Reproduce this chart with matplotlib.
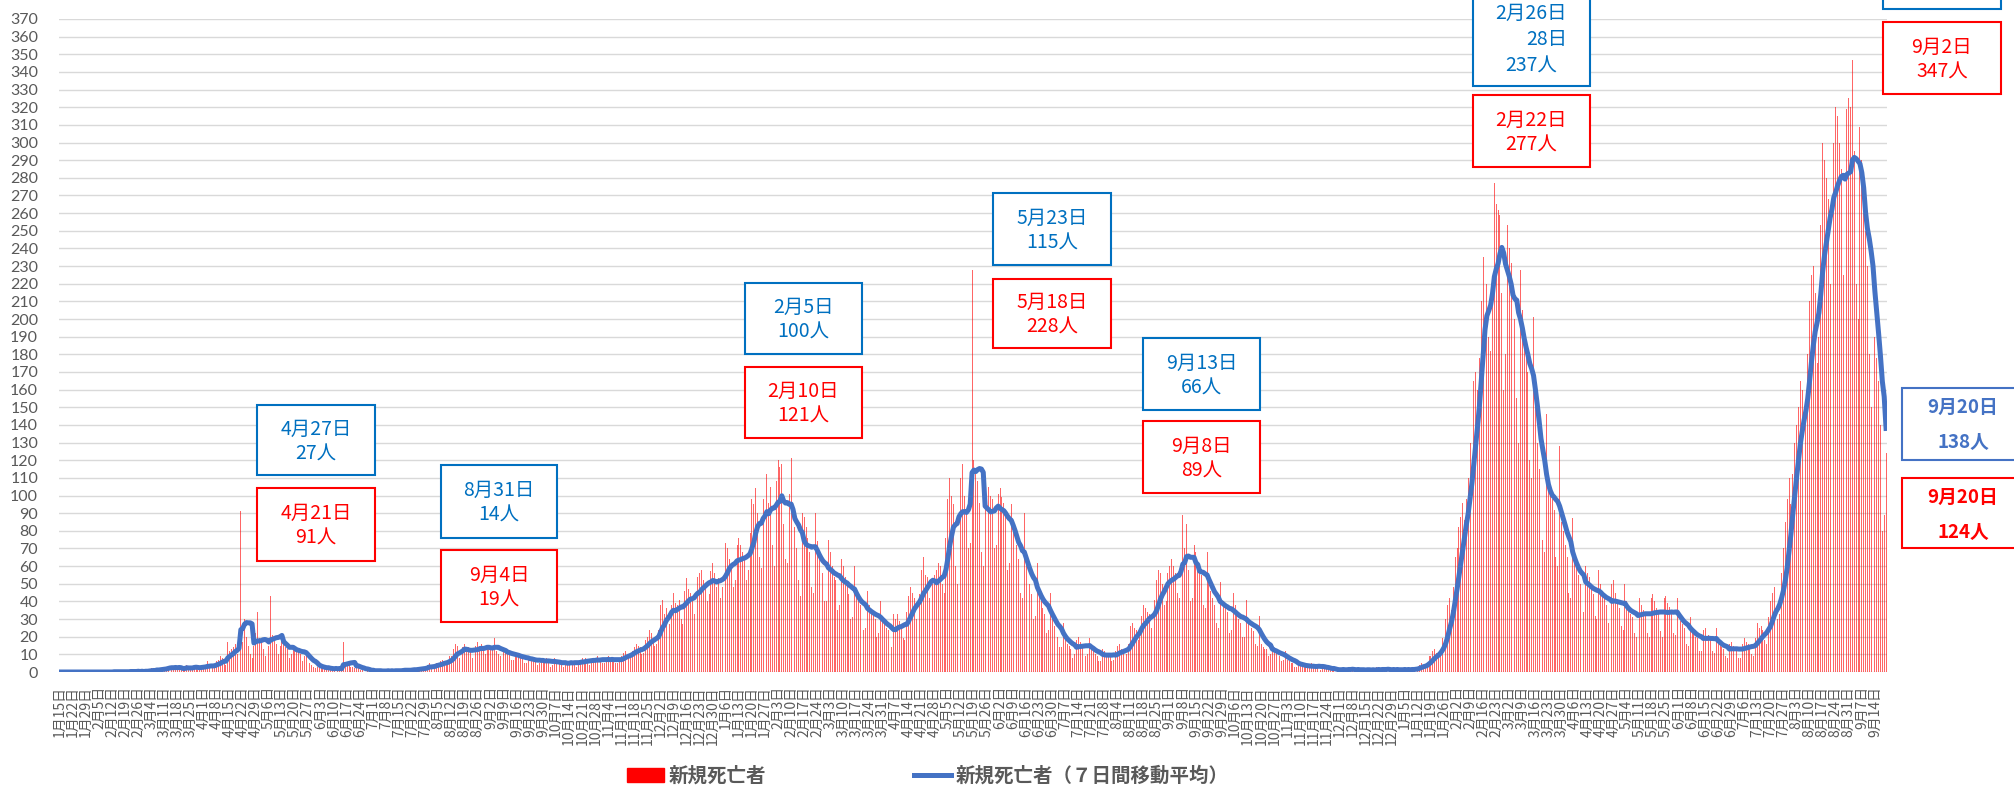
import numpy as np
import pandas as pd
import matplotlib
matplotlib.use('Agg')
import matplotlib.pyplot as plt
from matplotlib.patches import Rectangle
from matplotlib.lines import Line2D

plt.rcParams['font.family'] = ['Noto Sans CJK JP', 'DejaVu Sans']

start_date = '2020-01-15'

# daily new deaths (one row = one week, Wed..Tue)
deaths_2020 = [
    0, 0, 0, 0, 0, 0, 0,
    0, 0, 0, 0, 0, 0, 0,
    0, 0, 0, 0, 0, 0, 0,
    0, 0, 0, 0, 0, 0, 0,
    0, 1, 0, 0, 0, 0, 0,
    0, 1, 0, 1, 0, 0, 0,
    1, 0, 1, 0, 1, 0, 1,
    2, 1, 1, 2, 1, 1, 2,
    3, 2, 3, 4, 2, 1, 3,
    2, 3, 2, 1, 2, 4, 2,
    2, 3, 4, 2, 1, 3, 3,
    3, 4, 6, 3, 2, 3, 4,
    6, 7, 9, 8, 5, 4, 17,
    12, 13, 14, 16, 10, 12, 91,
    17, 30, 20, 15, 10, 8, 15,
    22, 34, 19, 17, 13, 9, 12,
    15, 43, 21, 20, 16, 10, 15,
    20, 18, 14, 13, 8, 10, 15,
    15, 13, 12, 10, 6, 9, 12,
    7, 5, 4, 3, 2, 3, 4,
    3, 2, 2, 1, 2, 1, 3,
    2, 3, 1, 2, 1, 17, 4,
    4, 5, 3, 3, 2, 3, 4,
    1, 2, 1, 0, 1, 1, 1,
    1, 0, 1, 0, 1, 0, 1,
    1, 1, 0, 1, 0, 1, 1,
    1, 1, 1, 2, 0, 1, 1,
    2, 2, 1, 3, 1, 2, 2,
    3, 4, 5, 3, 2, 3, 5,
    5, 6, 7, 6, 4, 5, 9,
    9, 13, 16, 15, 8, 9, 14,
    16, 12, 14, 13, 8, 10, 15,
    17, 15, 16, 12, 10, 13, 15,
    15, 14, 19, 12, 10, 9, 12,
    12, 11, 13, 10, 7, 7, 10,
    10, 9, 10, 8, 5, 5, 9,
    7, 8, 8, 6, 4, 5, 8,
    7, 6, 8, 6, 3, 4, 8,
    6, 5, 7, 4, 3, 4, 6,
    6, 7, 6, 5, 3, 4, 7,
    8, 7, 8, 6, 4, 5, 8,
    8, 9, 7, 7, 5, 5, 8,
    9, 8, 8, 6, 5, 5, 8,
    9, 11, 12, 10, 8, 8, 12,
    14, 16, 15, 14, 10, 11, 18,
    20, 24, 22, 19, 15, 16, 24,
    38, 41, 33, 36, 25, 27, 38,
    45, 39, 38, 41, 30, 27, 46,
    53, 47, 45, 43, 33, 38, 54,
    56, 58, 52, 50, 40, 44, 57,
    62, 56,
]

deaths_2021 = [
    48, 53, 42, 48, 62,
    73, 70, 64, 62, 48, 52, 72,
    76, 72, 68, 64, 52, 58, 79,
    98, 95, 104, 90, 65, 59, 98,
    108, 112, 96, 105, 72, 60, 108,
    120, 116, 118, 84, 64, 62, 101,
    121, 95, 82, 70, 52, 43, 90,
    88, 82, 76, 68, 48, 45, 90,
    74, 66, 62, 56, 40, 40, 75,
    68, 60, 54, 52, 35, 38, 64,
    60, 54, 50, 44, 30, 31, 60,
    44, 40, 38, 35, 24, 25, 46,
    38, 34, 33, 30, 20, 22, 40,
    30, 27, 25, 24, 15, 14, 33,
    30, 33, 29, 26, 19, 18, 34,
    43, 48, 45, 42, 30, 28, 44,
    58, 65, 55, 54, 42, 40, 50,
    55, 58, 62, 60, 50, 45, 76,
    98, 110, 100, 95, 60, 50, 103,
    110, 118, 100, 92, 70, 73, 228,
    120, 112, 108, 96, 68, 60, 94,
    112, 105, 100, 98, 70, 72, 101,
    104, 99, 96, 88, 58, 62, 95,
    85, 78, 72, 64, 45, 42, 90,
    62, 56, 50, 44, 30, 32, 62,
    45, 40, 36, 33, 22, 24, 45,
    30, 26, 22, 20, 14, 14, 28,
    18, 16, 15, 13, 8, 10, 18,
    20, 17, 16, 14, 9, 10, 19,
    14, 12, 10, 9, 6, 6, 13,
    12, 11, 10, 9, 6, 7, 12,
    15, 16, 13, 12, 9, 10, 16,
    26, 28, 25, 24, 18, 20, 32,
    38, 36, 34, 33, 25, 24, 41,
    52, 58, 56, 50, 38, 40, 56,
    60, 64, 60, 56, 45, 42, 72,
    89, 70, 84, 58, 40, 42, 72,
    68, 62, 58, 55, 38, 36, 68,
    50, 46, 42, 38, 28, 25, 51,
    44, 40, 36, 34, 22, 24, 45,
    38, 33, 30, 28, 20, 20, 41,
    30, 27, 25, 23, 16, 15, 32,
    16, 14, 13, 13, 9, 10, 16,
    12, 11, 9, 9, 6, 7, 12,
    7, 6, 5, 5, 3, 3, 6,
    4, 4, 3, 3, 2, 2, 5,
    4, 3, 3, 4, 1, 2, 4,
    2, 2, 1, 2, 1, 0, 2,
    1, 2, 2, 1, 1, 1, 2,
    2, 1, 1, 2, 0, 1, 2,
    1, 2, 1, 1, 1, 0, 3,
    2, 1, 2, 1, 1, 1, 2,
    1, 2, 1,
]

deaths_2022 = [
    2, 0, 1, 2,
    2, 1, 2, 1, 1, 1, 3,
    3, 4, 5, 4, 3, 4, 9,
    9, 12, 13, 11, 8, 12, 19,
    22, 30, 38, 42, 35, 48, 65,
    70, 82, 88, 96, 86, 98, 110,
    130, 142, 165, 170, 160, 178, 210,
    235, 240, 220, 190, 182, 224, 277,
    265, 262, 259, 215, 160, 180, 253,
    240, 232, 215, 200, 155, 130, 228,
    205, 190, 180, 170, 120, 110, 201,
    150, 130, 115, 100, 75, 68, 146,
    110, 105, 98, 92, 65, 60, 128,
    85, 80, 72, 65, 45, 42, 87,
    62, 60, 55, 50, 36, 34, 60,
    56, 54, 48, 44, 32, 30, 58,
    50, 46, 42, 38, 28, 26, 50,
    52, 45, 40, 36, 26, 24, 50,
    40, 36, 33, 31, 22, 20, 42,
    42, 38, 35, 32, 22, 20, 42,
    44, 40, 36, 33, 23, 20, 42,
    43, 39, 37, 34, 22, 21, 42,
    32, 29, 27, 25, 16, 15, 31,
    24, 22, 20, 19, 12, 12, 24,
    25, 21, 21, 18, 12, 11, 25,
    16, 15, 14, 13, 9, 8, 16,
    17, 15, 14, 13, 8, 8, 16,
    19, 17, 16, 15, 10, 9, 19,
    28, 25, 26, 24, 18, 16, 31,
    40, 45, 48, 42, 30, 33, 56,
    70, 85, 98, 110, 95, 112, 130,
    140, 150, 165, 160, 140, 150, 180,
    210, 225, 230, 215, 175, 190, 253,
    300, 290, 280, 268, 220, 225, 300,
    320, 315, 300, 285, 225, 210, 319,
    325, 320, 347, 295, 220, 200, 309,
    290, 260, 250, 230, 180, 150, 250,
    190, 178, 165, 140, 80, 89, 124,
]

daily = np.array(deaths_2020 + deaths_2021 + deaths_2022)
dates = pd.date_range(start_date, periods=len(daily))
ma7 = pd.Series(daily).rolling(7, min_periods=1).mean()

W, H = 2014, 786
blue = '#0070C0'
red = '#FF0000'
line_blue = '#4472C4'
gray = '#595959'

fig = plt.figure(figsize=(W / 100, H / 100), dpi=100)
ax = fig.add_axes([59 / W, 1 - 672 / H, (1887 - 59) / W, (672 - 19) / H])

x = np.arange(len(daily))
ax.bar(x, daily, width=0.5, color=red, alpha=0.6, linewidth=0, zorder=2)
ax.plot(x, ma7, color=line_blue, lw=3.6, zorder=3)

ax.set_xlim(-0.5, len(daily) - 0.5)
ax.set_ylim(0, 370)
ax.set_yticks(range(0, 371, 10))
ax.grid(axis='y', color='#D9D9D9', lw=1.0)
ax.set_axisbelow(True)
for s in ax.spines.values():
    s.set_visible(False)

ax.set_xticks(x[::7])
ax.set_xticklabels([f'{d.month}月{d.day}日' for d in dates[::7]], rotation=90, fontsize=10, color=gray)
ax.tick_params(axis='x', length=0, pad=10)
ax.tick_params(axis='y', length=0, pad=15, labelsize=11.5, labelcolor=gray)
for lab in ax.get_yticklabels():
    lab.set_family('Lato')


def box(x0, y0, x1, y1, color, lw=1.5):
    fig.add_artist(Rectangle((x0 / W, 1 - y1 / H), (x1 - x0) / W, (y1 - y0) / H,
                             transform=fig.transFigure, facecolor='white',
                             edgecolor=color, lw=lw, zorder=5))


def label(xp, yp, s, color, size=14, weight='normal', ha='center'):
    fig.text(xp / W, 1 - yp / H, s, color=color, fontsize=size, ha=ha, va='center',
             fontweight=weight, zorder=6)


# text boxes (pixel positions in the figure)
notes = [
    (257, 405, 375, 475, blue, '4月27日', '27人'),
    (257, 488, 375, 561, red, '4月21日', '91人'),
    (441, 465, 557, 538, blue, '8月31日', '14人'),
    (441, 550, 557, 622, red, '9月4日', '19人'),
    (745, 283, 862, 354, blue, '2月5日', '100人'),
    (745, 367, 862, 438, red, '2月10日', '121人'),
    (993, 193, 1111, 265, blue, '5月23日', '115人'),
    (993, 279, 1111, 348, red, '5月18日', '228人'),
    (1143, 338, 1260, 410, blue, '9月13日', '66人'),
    (1143, 421, 1260, 493, red, '9月8日', '89人'),
    (1473, 95, 1590, 167, red, '2月22日', '277人'),
    (1883, 22, 2001, 94, red, '9月2日', '347人'),
]
for x0, y0, x1, y1, c, l1, l2 in notes:
    box(x0, y0, x1, y1, c)
    cx, cy = (x0 + x1) / 2, (y0 + y1) / 2
    label(cx, cy - 11, l1, c)
    label(cx, cy + 14, l2, c)

box(1473, -12, 1590, 86, blue)
label(1531, 13, '2月26日', blue)
label(1567, 39, '28日', blue, ha='right')
label(1531, 66, '237人', blue)

box(1883, -80, 2001, 9, blue)

box(1902, 388, 2030, 460, line_blue)
label(1963, 407, '9月20日', line_blue, size=13.5, weight='bold')
label(1963, 442, '138人', line_blue, size=13.5, weight='bold')
box(1902, 478, 2030, 548, red)
label(1963, 497, '9月20日', red, size=13.5, weight='bold')
label(1963, 533, '124人', red, size=13.5, weight='bold')

handles = [Rectangle((0, 0), 1, 1, color=red), Line2D([], [], color=line_blue, lw=3.6)]
fig.legend(handles, ['新規死亡者', '新規死亡者（７日間移動平均）'], loc='center',
           bbox_to_anchor=(928 / W, 1 - 776 / H), ncol=2, frameon=False,
           prop={'size': 14, 'weight': 'bold'}, labelcolor=gray,
           handlelength=1.9, handletextpad=0.25, columnspacing=7.6)

fig.savefig('out.png', dpi=100)
